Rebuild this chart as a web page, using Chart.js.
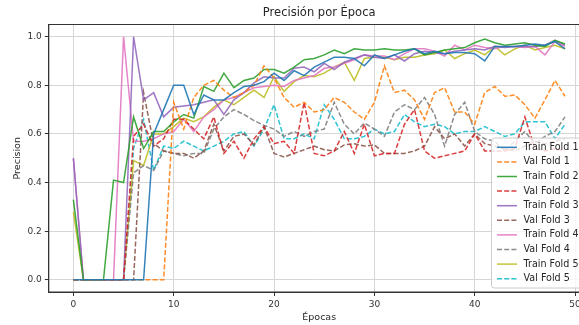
<!DOCTYPE html>
<html><head><meta charset="utf-8">
<script src="https://cdn.jsdelivr.net/npm/chart.js@4/dist/chart.umd.min.js"></script>
<style>html,body{margin:0;padding:0;background:#fff;overflow:hidden;width:579px;height:325px}canvas{display:block}</style>
</head><body>
<canvas id="c" width="600" height="325"></canvas>
<script>
const epochs = Array.from({length: 50}, (_, i) => i);
const xTicks = [0, 10, 20, 30, 40, 50];
const yTicks = [0.0, 0.2, 0.4, 0.6, 0.8, 1.0];

const trainFold1 = [0,0,0,0,0,0,0,0,0.60,0.70, 0.80,0.80,0.68,0.76,0.74,0.74,0.77,0.795,0.80,0.815, 0.85,0.82,0.86,0.84,0.875,0.895,0.915,0.915,0.91,0.88, 0.925,0.91,0.925,0.94,0.95,0.93,0.94,0.93,0.935,0.935, 0.93,0.90,0.96,0.96,0.96,0.965,0.97,0.965,0.98,0.95];
const valFold1 = [0,0,0,0,0,0,0,0,0,0, 0.73,0.62,0.75,0.80,0.82,0.78,0.75,0.77,0.80,0.88, 0.83,0.75,0.71,0.73,0.69,0.70,0.75,0.73,0.69,0.66, 0.73,0.88,0.77,0.78,0.74,0.66,0.77,0.79,0.69,0.69, 0.64,0.77,0.795,0.755,0.76,0.72,0.665,0.74,0.82,0.755];
const trainFold2 = [0.33,0,0,0,0.41,0.40,0.67,0.54,0.61,0.61, 0.65,0.68,0.665,0.795,0.775,0.85,0.79,0.82,0.83,0.865, 0.865,0.85,0.875,0.905,0.91,0.925,0.945,0.93,0.95,0.945, 0.945,0.95,0.945,0.945,0.95,0.925,0.935,0.945,0.95,0.955, 0.975,0.99,0.975,0.965,0.97,0.975,0.965,0.96,0.985,0.97];
const valFold2 = [0,0,0,0,0,0,0.59,0.64,0.55,0.58, 0.66,0.66,0.62,0.58,0.67,0.52,0.57,0.50,0.58,0.63, 0.56,0.57,0.52,0.73,0.52,0.51,0.53,0.61,0.52,0.64, 0.51,0.52,0.52,0.64,0.70,0.53,0.50,0.51,0.52,0.53, 0.60,0.53,0.53,0.53,0.54,0.67,0.54,0.53,0.54,0.53];
const trainFold3 = [0.5,0,0,0,0,0,1.0,0.74,0.77,0.67, 0.71,0.715,0.72,0.73,0.74,0.68,0.74,0.77,0.81,0.835, 0.83,0.83,0.87,0.875,0.855,0.89,0.865,0.895,0.91,0.925, 0.915,0.91,0.925,0.90,0.93,0.94,0.935,0.93,0.94,0.945, 0.95,0.945,0.96,0.955,0.96,0.96,0.96,0.965,0.985,0.965];
const valFold3 = [0,0,0,0,0,0,0,0.77,0.56,0.53, 0.52,0.52,0.50,0.53,0.64,0.53,0.59,0.60,0.555,0.63, 0.52,0.505,0.52,0.535,0.55,0.535,0.53,0.555,0.56,0.55, 0.555,0.52,0.52,0.52,0.53,0.55,0.63,0.58,0.60,0.55, 0.60,0.56,0.55,0.54,0.53,0.55,0.57,0.56,0.57,0.58];
const trainFold4 = [0.5,0,0,0,0,1.0,0.57,0.57,0.58,0.60, 0.61,0.66,0.61,0.67,0.70,0.74,0.75,0.77,0.79,0.795, 0.80,0.795,0.82,0.83,0.84,0.87,0.875,0.89,0.905,0.925, 0.92,0.92,0.905,0.93,0.95,0.95,0.94,0.92,0.965,0.945, 0.965,0.955,0.95,0.96,0.96,0.955,0.96,0.925,0.98,0.96];
const valFold4 = [0,0,0,0,0,0,0.44,0.47,0.45,0.53, 0.52,0.51,0.52,0.52,0.62,0.67,0.70,0.68,0.655,0.635, 0.62,0.59,0.61,0.59,0.61,0.62,0.73,0.64,0.60,0.645, 0.62,0.59,0.69,0.72,0.70,0.75,0.68,0.55,0.68,0.73, 0.61,0.58,0.57,0.53,0.57,0.61,0.56,0.59,0.61,0.67];
const trainFold5 = [0.28,0,0,0,0,0,0.49,0.47,0.60,0.60, 0.63,0.665,0.65,0.67,0.71,0.74,0.72,0.75,0.78,0.75, 0.835,0.775,0.815,0.84,0.835,0.85,0.875,0.895,0.82,0.91, 0.915,0.915,0.905,0.915,0.915,0.925,0.93,0.945,0.91,0.93, 0.945,0.925,0.96,0.925,0.95,0.965,0.945,0.955,0.965,0.95];
const valFold5 = [0,0,0,0,0,0,0.54,0.66,0.45,0.55, 0.54,0.57,0.55,0.53,0.55,0.57,0.60,0.61,0.55,0.62, 0.72,0.58,0.58,0.60,0.58,0.72,0.66,0.58,0.58,0.59, 0.62,0.60,0.61,0.68,0.65,0.63,0.64,0.63,0.60,0.61, 0.61,0.63,0.61,0.59,0.60,0.65,0.65,0.65,0.58,0.64];

const seriesNames = ['Train Fold 1','Val Fold 1','Train Fold 2','Val Fold 2','Train Fold 3','Val Fold 3','Train Fold 4','Val Fold 4','Train Fold 5','Val Fold 5'];
const seriesValues = [trainFold1, valFold1, trainFold2, valFold2, trainFold3, valFold3, trainFold4, valFold4, trainFold5, valFold5];
const chartTitle = 'Precisión por Época';
const palette = ['#1f77b4','#ff7f0e','#2ca02c','#d62728','#9467bd','#8c564b','#e377c2','#7f7f7f','#bcbd22','#17becf'];
const DASH = [5, 2.2];
const FONT = 'DejaVu Sans';

function alpha(hex, a) {
  const n = parseInt(hex.slice(1), 16);
  return `rgba(${(n>>16)&255},${(n>>8)&255},${n&255},${a})`;
}

const datasets = seriesNames.map((name, k) => ({
  label: name,
  data: seriesValues[k].map((v, i) => ({x: epochs[i], y: v})),
  borderColor: alpha(palette[k], 0.9),
  backgroundColor: alpha(palette[k], 0.9),
  borderWidth: 1.5,
  borderDash: name.startsWith('Val') ? DASH : [],
  pointRadius: 0,
  tension: 0,
  fill: false
}));

const frameLegend = {
  id: 'frameLegend',
  afterDraw(chart) {
    const {ctx, chartArea: a} = chart;
    ctx.save();
    ctx.strokeStyle = '#333';
    ctx.lineWidth = 1;
    ctx.strokeRect(a.left, a.top, a.right - a.left, a.bottom - a.top);
    // title centred over the axes
    ctx.font = `11.5px "${FONT}"`;
    ctx.fillStyle = '#262626';
    ctx.textAlign = 'center';
    ctx.textBaseline = 'middle';
    ctx.fillText(chartTitle, (a.left + a.right) / 2, 13);
    // legend
    const bx = 491.5, by = 138, bw = 96, bh = 150, r = 3;
    ctx.beginPath();
    ctx.moveTo(bx + r, by);
    ctx.lineTo(bx + bw - r, by); ctx.quadraticCurveTo(bx + bw, by, bx + bw, by + r);
    ctx.lineTo(bx + bw, by + bh - r); ctx.quadraticCurveTo(bx + bw, by + bh, bx + bw - r, by + bh);
    ctx.lineTo(bx + r, by + bh); ctx.quadraticCurveTo(bx, by + bh, bx, by + bh - r);
    ctx.lineTo(bx, by + r); ctx.quadraticCurveTo(bx, by, bx + r, by);
    ctx.closePath();
    ctx.fillStyle = 'rgba(255,255,255,0.8)';
    ctx.fill();
    ctx.strokeStyle = '#cccccc';
    ctx.stroke();
    ctx.font = `9.6px "${FONT}"`;
    ctx.textBaseline = 'middle';
    ctx.textAlign = 'left';
    chart.data.datasets.forEach((ds, i) => {
      const y = 147.3 + i * 14.6;
      ctx.beginPath();
      ctx.setLineDash(ds.borderDash);
      ctx.strokeStyle = ds.borderColor;
      ctx.lineWidth = ds.borderWidth;
      ctx.moveTo(497, y); ctx.lineTo(517, y);
      ctx.stroke();
      ctx.setLineDash([]);
      ctx.fillStyle = '#262626';
      ctx.fillText(ds.label, 523.5, y);
    });
    ctx.restore();
  }
};

new Chart(document.getElementById('c'), {
  type: 'line',
  data: {datasets},
  options: {
    responsive: false,
    animation: false,
    layout: {padding: {left: 0, right: 10.4, top: 24.5, bottom: 0}},
    plugins: {
      legend: {display: false},
      tooltip: {enabled: false},
      title: {display: false}
    },
    scales: {
      x: {
        type: 'linear', min: -2.45, max: 51.45,
        afterBuildTicks: s => { s.ticks = xTicks.map(v => ({value: v})); },
        afterFit: s => { s.height = 33; },
        ticks: {font: {family: FONT, size: 9}, color: '#333', padding: 3, maxRotation: 0, autoSkip: false, callback: v => String(v)},
        grid: {color: '#d6d6d6', lineWidth: 1, tickLength: 4, tickColor: '#333', drawTicks: true},
        border: {display: true, color: '#333', width: 1},
        title: {display: true, text: 'Épocas', color: '#262626', font: {family: FONT, size: 9.5}, padding: {top: 0, bottom: 1.5}}
      },
      y: {
        type: 'linear', min: -0.05, max: 1.05,
        afterBuildTicks: s => { s.ticks = yTicks.map(v => ({value: v})); },
        afterFit: s => { s.width = 48.8; },
        ticks: {font: {family: FONT, size: 9}, color: '#333', padding: 3, autoSkip: false, callback: v => Number(v).toFixed(1)},
        grid: {color: '#d6d6d6', lineWidth: 1, tickLength: 4, tickColor: '#333', drawTicks: true},
        border: {display: true, color: '#333', width: 1},
        title: {display: true, text: 'Precision', color: '#262626', font: {family: FONT, size: 9.5}, padding: {top: 11.5, bottom: 0}}
      }
    }
  },
  plugins: [frameLegend]
});
</script>
</body></html>
